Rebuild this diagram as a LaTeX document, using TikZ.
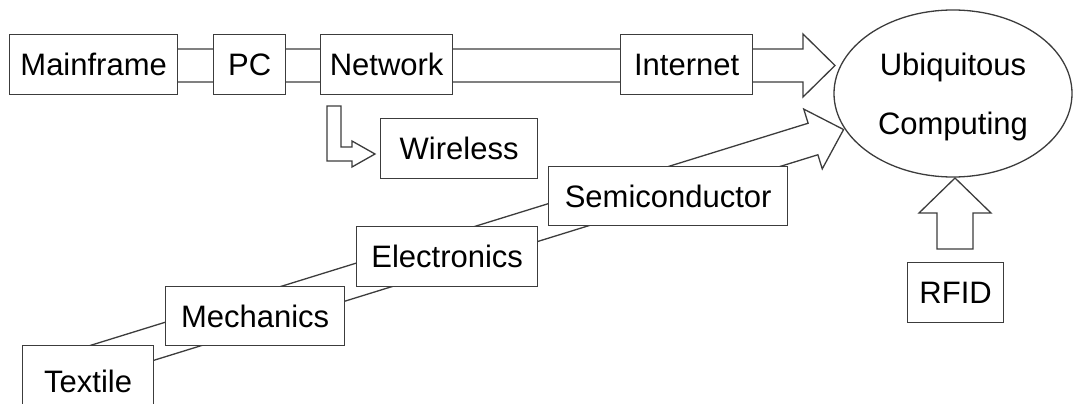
\documentclass[tikz,border=0pt]{standalone}
\usepackage{fontspec}
\setmainfont{Liberation Sans}
\usetikzlibrary{shapes.geometric}
\definecolor{linec}{RGB}{60,60,60}
\begin{document}
\begin{tikzpicture}[x=1pt,y=-1pt,
  ln/.style={draw=linec, line width=1.3pt, line join=miter},
  blk/.style={ln, fill=white},
  boxfont/.style={font=\fontsize{31}{36}\selectfont},
  box/.style={blk, boxfont, inner sep=0pt, text height=22.2pt, text depth=0pt, anchor=north west},
]
\useasboundingbox (0,0) rectangle (1077,404);

% big horizontal block arrow
\draw[blk] (20,49) -- (803,49) -- (803,34) -- (835,65.5) -- (803,97) -- (803,82) -- (20,82) -- cycle;

% diagonal block arrow
\begin{scope}[shift={(813,139)}, rotate=17.2]
  \draw[blk] (-760,-16.5) -- (0,-16.5) -- (0,-31.3) -- (32,0) -- (0,31.3) -- (0,16.5) -- (-760,16.5) -- cycle;
\end{scope}

% boxes
\node[box, minimum width=168pt, minimum height=60pt] (mf) at (9,34) {Mainframe};
\node[box, minimum width=72pt, minimum height=60pt] (pc) at (213,34) {PC};
\node[box, minimum width=132pt, minimum height=60pt] (nw) at (320,34) {Network};
\node[box, minimum width=132pt, minimum height=60pt] (in) at (620,34) {Internet};
\node[box, minimum width=157pt, minimum height=60pt] (wl) at (380,118) {Wireless};
\node[box, minimum width=239pt, minimum height=59pt] (sc) at (548,166) {Semiconductor};
\node[box, minimum width=181pt, minimum height=60pt] (el) at (356,226) {Electronics};
\node[box, minimum width=179pt, minimum height=59pt] (me) at (165,286) {Mechanics};
\node[box, minimum width=131pt, minimum height=72pt] (tx) at (22,345) {Textile};
\node[box, minimum width=96pt, minimum height=60pt] (rf) at (907,262) {RFID};

% wireless bent arrow
\draw[blk] (327,106) -- (341,106) -- (341,147) -- (352,147) -- (352,141) -- (375,154) -- (352,167) -- (352,161) -- (327,161) -- cycle;

% RFID up arrow
\draw[blk] (937,249) -- (937,213) -- (919,213) -- (955,178) -- (991,213) -- (973,213) -- (973,249) -- cycle;

% ellipse
\node[blk, ellipse, inner sep=0pt, minimum width=238pt, minimum height=167pt] (uc) at (953,93.5) {};
\node[boxfont, inner sep=0pt, text height=22.2pt, text depth=0pt] (uc1) at (953,64) {Ubiquitous};
\node[boxfont, inner sep=0pt, text height=22.2pt, text depth=0pt] (uc2) at (953,123) {Computing};
\end{tikzpicture}
\end{document}
